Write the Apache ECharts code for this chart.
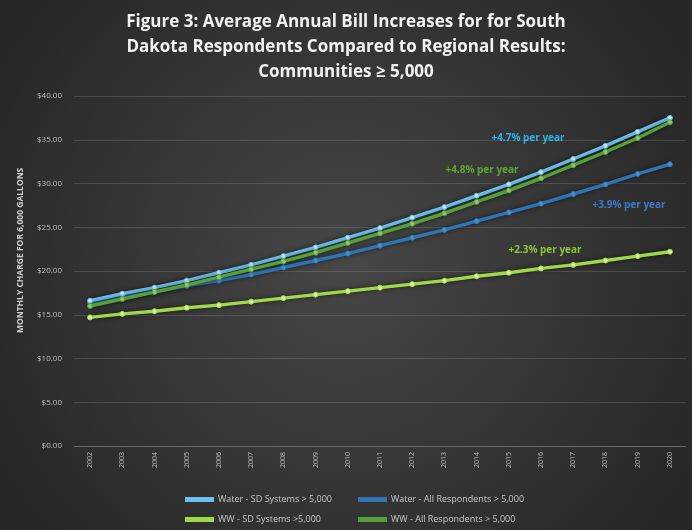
<!DOCTYPE html>
<html><head><meta charset="utf-8">
<script src="https://cdn.jsdelivr.net/npm/echarts@6/dist/echarts.min.js"></script>
<style>html,body{margin:0;padding:0;background:#333;}#c{width:692px;height:530px;}</style>
</head><body><div id="c"></div>
<script>
const years = ['2002','2003','2004','2005','2006','2007','2008','2009','2010','2011','2012','2013','2014','2015','2016','2017','2018','2019','2020'];
const waterSD  = [16.6,17.4,18.1,18.9,19.8,20.7,21.7,22.7,23.8,24.9,26.1,27.3,28.6,29.9,31.3,32.8,34.3,35.9,37.5];
const waterAll = [16.4,17.0,17.6,18.3,18.9,19.6,20.4,21.2,22.0,22.9,23.8,24.7,25.7,26.7,27.7,28.8,29.9,31.1,32.2];
const wwSD     = [14.7,15.1,15.4,15.8,16.1,16.5,16.9,17.3,17.7,18.1,18.5,18.9,19.4,19.8,20.3,20.7,21.2,21.7,22.2];
const wwAll    = [16.0,16.8,17.6,18.4,19.3,20.2,21.1,22.1,23.2,24.3,25.4,26.6,27.9,29.2,30.6,32.1,33.6,35.2,37.0];
const seriesNames = ['Water - SD Systems > 5,000','Water - All Respondents > 5,000','WW - SD Systems >5,000','WW - All Respondents > 5,000'];
const rateLabels = ['+4.7% per year','+4.8% per year','+3.9% per year','+2.3% per year'];
const titleLines = ['Figure 3: Average Annual Bill Increases for for South','Dakota Respondents Compared to Regional Results:','Communities ≥ 5,000'];
const yTicks = [0,5,10,15,20,25,30,35,40];

const chart = echarts.init(document.getElementById('c'));
const font = 'Open Sans';
function mkSeries(name, data, color, mcolor, z){
  return {name, type:'line', data, z, symbol:'circle', symbolSize:5, showSymbol:true,
    lineStyle:{color, width:3.5, shadowBlur:5, shadowColor:'rgba(0,0,0,0.6)'},
    itemStyle:{color:mcolor, borderColor:color, borderWidth:1},
    emphasis:{disabled:true}};
}
function mkLegend(name, left, top, color){
  return {data:[name], left, top, icon:'rect', itemWidth:27, itemHeight:3, itemGap:4,
    textStyle:{color:'#c8c8c8', fontSize:9, fontFamily:font}, selectedMode:false,
    itemStyle:{color}};
}
const rate = (t,x,y,c)=>({type:'text', x, y, style:{text:t, fill:c, font:'bold 10px "Open Sans"', textAlign:'center', textVerticalAlign:'middle'}});
chart.setOption({
  animation:false,
  backgroundColor:{type:'radial', x:0.5, y:0.5, r:0.75, colorStops:[{offset:0,color:'#474747'},{offset:1,color:'#272727'}]},
  grid:{left:74, right:6, top:96, bottom:84},
  legend:[
    mkLegend(seriesNames[0],180,490,'#6cc0ee'),
    mkLegend(seriesNames[1],353,490,'#2f74b5'),
    mkLegend(seriesNames[2],180,510,'#9fd84a'),
    mkLegend(seriesNames[3],353,510,'#55a03a')
  ],
  xAxis:{type:'category', data:years, boundaryGap:true,
    axisLine:{lineStyle:{color:'#6a6a6a'}}, axisTick:{show:false},
    axisLabel:{rotate:90, color:'#bdbdbd', fontSize:7, fontFamily:font, margin:6}},
  yAxis:{type:'value', min:0, max:40, interval:5,
    axisLine:{show:false}, axisTick:{show:false},
    splitLine:{lineStyle:{color:'rgba(255,255,255,0.13)'}},
    axisLabel:{color:'#bdbdbd', fontSize:8, fontFamily:font, margin:12,
      formatter:v=> yTicks.includes(v) ? '$'+v.toFixed(2) : ''}},
  graphic:[
    {type:'text', x:346, y:10, style:{text:titleLines.join('\n'), fill:'#f2f2f2', font:'bold 17px "Open Sans"', textAlign:'center', lineHeight:25,
      shadowColor:'rgba(0,0,0,0.6)', shadowBlur:3}},
    {type:'text', x:16, y:333, rotation:Math.PI/2, style:{text:'MONTHLY CHARGE FOR 6,000 GALLONS', fill:'#d0d0d0', font:'bold 8.5px "Open Sans"'}},
    rate(rateLabels[0],528,138,'#28b2ea'),
    rate(rateLabels[1],482,170,'#5aa832'),
    rate(rateLabels[2],629,205,'#3c78c8'),
    rate(rateLabels[3],545,250,'#8cc43c')
  ],
  series:[
    mkSeries(seriesNames[1], waterAll, '#2f74b5', '#4a8fd0', 2),
    mkSeries(seriesNames[2], wwSD, '#9fd84a', '#d4f09a', 3),
    mkSeries(seriesNames[0], waterSD, '#6cc0ee', '#cfeaf8', 4),
    mkSeries(seriesNames[3], wwAll, '#55a03a', '#8cc86c', 5)
  ]
});
</script></body></html>
